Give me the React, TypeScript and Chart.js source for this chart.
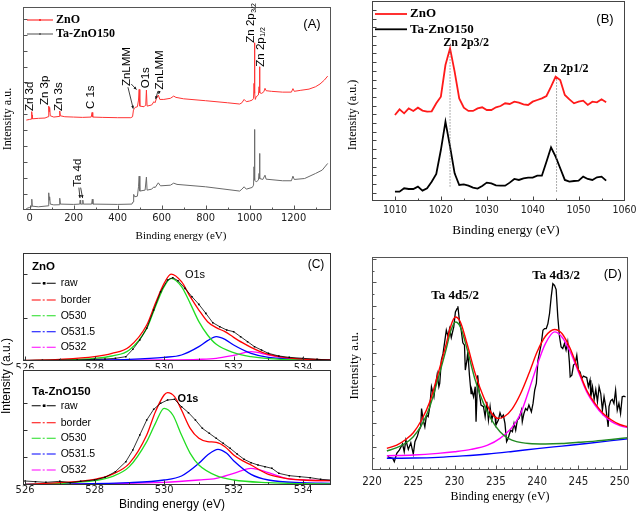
import { useEffect, useRef } from "react";
import { Chart, registerables } from "chart.js";
Chart.register(...registerables);

// ---------------- DATA ----------------
// (A) survey spectra
const aZnOEv = [-15,0,7,9,10,11,13,40,70,84,87,89,91,94,110,134,137,140,160,200,240,280,284,287,330,400,460,468,472,477,480,490,495,498,501,520,528,531,534,555,565,570,577,585,592,610,640,655,665,700,800,900,955,965,975,985,1000,1012,1018,1020,1022,1024,1026,1030,1040,1043,1045,1047,1055,1065,1070,1075,1100,1150,1190,1197,1203,1230,1270,1300,1320,1340,1355];
const aZnO = [5.63,5.67,5.69,6.05,6.16,5.95,5.71,5.74,5.76,5.84,6.51,6.16,6.43,5.90,5.82,5.86,6.20,5.90,5.84,5.82,5.80,5.82,6.11,5.82,5.80,5.78,5.78,5.84,6.26,6.37,6.43,6.47,6.89,7.56,6.51,6.47,6.58,7.52,6.51,6.58,6.79,6.72,7.00,7.21,6.93,6.93,7.00,7.14,7.06,6.97,6.85,6.72,6.64,6.72,6.93,6.79,6.83,6.89,7.00,7.94,10.5,7.31,6.93,7.10,7.21,7.73,8.99,7.35,7.31,7.42,7.63,7.48,7.44,7.39,7.39,7.61,7.44,7.50,7.58,7.73,7.90,8.15,8.40];
const aTaEv = [-15,0,8,10,12,40,84,87,89,91,94,110,134,137,140,200,228,230,232,240,242,244,282,285,288,400,465,470,473,478,490,495,498,501,525,531,534,555,565,570,585,595,640,655,670,800,955,965,975,985,1012,1018,1020,1022,1024,1030,1040,1043,1045,1047,1060,1070,1075,1150,1190,1197,1203,1250,1300,1330,1355];
const aTa = [0.06,0.13,0.17,0.65,0.21,0.17,0.23,1.05,0.59,0.80,0.34,0.29,0.30,0.71,0.34,0.32,0.34,0.59,0.34,0.34,0.59,0.34,0.34,0.65,0.34,0.32,0.34,0.48,0.95,0.80,0.84,1.43,2.10,1.16,1.22,2.04,1.22,1.28,1.43,1.37,1.68,1.49,1.53,1.66,1.58,1.43,1.16,1.28,1.43,1.28,1.39,1.53,2.69,5.04,1.85,1.74,1.85,2.27,3.53,1.95,1.89,2.16,1.91,1.81,1.81,2.10,1.89,1.95,2.27,2.48,2.90];
const aXTicks = [0, 200, 400, 600, 800, 1000, 1200];

// (B) Zn 2p
const bEv = [1010,1011,1012,1013,1014,1015,1016,1017,1018,1019,1020,1021,1022,1023,1024,1025,1026,1027,1028,1029,1030,1031,1032,1033,1034,1035,1036,1037,1038,1039,1040,1041,1042,1043,1044,1045,1046,1047,1048,1049,1050,1051,1052,1053,1054,1055,1056];
const bZnO = [8.93,9.58,9.12,9.69,9.39,9.77,9.43,9.31,9.35,10.27,11.03,14.67,16.59,13.91,10.84,9.77,9.39,9.39,9.69,9.81,9.50,9.50,9.81,9.96,10.27,10.19,10.46,10.34,10.15,10.08,10.46,10.65,10.84,11.11,12.18,13.33,12.95,11.23,10.73,10.27,10.46,10.57,10.08,10.46,10.38,10.73,10.38];
const bTa = [0.11,0.11,0.50,0.42,0.42,0.69,0.23,0.50,1.26,2.15,4.90,8.16,5.29,2.22,0.88,0.96,0.80,0.57,0.46,0.77,1.15,1.07,0.84,0.80,0.80,1.15,1.57,1.46,1.65,1.72,1.72,1.95,1.95,3.56,5.21,4.14,2.80,1.46,1.26,1.34,1.38,1.84,1.57,1.46,1.76,1.84,1.38];
const bPeakLines = [1022, 1045.2];
const bXTicks = [1010, 1020, 1030, 1040, 1050, 1060];

// (C) O 1s, ZnO (top)
const cTopRawEv = [526,526.5,527,527.5,528,528.3,528.6,528.9,529.1,529.3,529.5,529.7,529.9,530.1,530.25,530.4,530.6,530.8,531,531.2,531.4,531.6,531.8,532,532.2,532.4,532.6,532.8,533,533.3,533.6,534,534.4,534.8];
const cTopRaw = [2,2,3,3,5,6,8,13,35,63,98,153,208,243,250,241,218,193,170,143,115,103,93,88,73,58,43,33,23,15,11,8,5,3];
const cTopBorderEv = [526,527,528,528.5,529,529.5,529.75,530,530.2,530.5,530.75,531,531.25,531.5,531.75,532,532.25,532.5,532.75,533,533.5,534,534.8];
const cTopBorder = [2,5,13,23,43,108,173,233,261,238,193,153,118,100,88,71,55,41,29,20,10,6,3];
const cTopO530Ev = [526,527,528,528.5,529,529.5,529.75,530,530.2,530.5,530.75,531,531.25,531.5,532,532.5,533,534,534.8];
const cTopO530 = [1,3,8,15,33,98,163,223,248,223,173,118,78,50,25,13,7,3,2];
const cTopO5315Ev = [526,528,529,530,530.5,531,531.25,531.5,531.75,532,532.5,533,534,534.8];
const cTopO5315 = [1,3,5,11,18,43,61,73,65,48,23,11,5,3];
const cTopO532Ev = [526,530,531,531.5,532,532.5,533,533.5,534,534.8];
const cTopO532 = [1,3,5,8,17,28,18,9,5,3];
// (C) O 1s, Ta-ZnO150 (bottom)
const cBotRawEv = [526,526.3,526.6,527,527.3,527.6,528,528.3,528.6,528.9,529.1,529.3,529.5,529.7,529.9,530.1,530.3,530.5,530.7,530.9,531.1,531.3,531.5,531.7,531.9,532.1,532.3,532.5,532.7,532.9,533.1,533.3,533.6,533.9,534.2,534.5,534.8];
const cBotRaw = [12,10,8,11,7,11,15,23,40,70,105,150,195,227,245,255,257,235,217,195,170,155,140,125,110,93,77,67,60,55,50,35,28,25,22,17,15];
const cBotBorderEv = [526,527,528,528.5,529,529.5,529.75,530,530.1,530.3,530.5,530.75,531,531.25,531.5,531.75,532,532.25,532.5,532.75,533,533.5,534,534.8];
const cBotBorder = [2,7,17,32,65,150,220,270,277,265,225,170,140,130,128,115,90,73,60,45,32,20,15,13];
const cBotO530Ev = [526,527,528,528.5,529,529.5,529.75,530,530.25,530.5,530.75,531,531.5,532,533,534,534.8];
const cBotO530 = [2,5,13,25,55,130,185,230,210,150,95,60,28,15,7,4,3];
const cBotO5315Ev = [526,529,530,530.5,531,531.25,531.55,531.8,532,532.5,533,534,534.8];
const cBotO5315 = [2,7,15,27,65,90,107,95,73,32,15,7,5];
const cBotO532Ev = [526,530,531,531.5,532,532.5,533,533.5,534,534.8];
const cBotO532 = [2,8,15,20,35,50,37,20,15,13];
const cXTicks = [526, 528, 530, 532, 534];
const cLegend = ["raw", "border", "O530", "O531.5", "O532"];

// (D) Ta 4d
const dRawEv = [
  221.9,222.1,222.5,222.7,223.0,223.3,223.7,223.9,224.1,224.4,
  224.7,225.0,225.2,225.5,225.7,225.9,226.0,226.2,226.4,226.6,
  226.8,227.0,227.2,227.5,227.6,227.9,228.1,228.2,228.4,228.6,
  228.8,229.0,229.2,229.4,229.6,229.9,230.1,230.3,230.4,230.6,
  230.8,231.0,231.2,231.3,231.5,231.6,231.8,232.0,232.1,232.3,
  232.5,232.6,232.8,233.0,233.2,233.5,233.7,233.9,234.1,234.3,
  234.5,234.7,234.9,235.0,235.3,235.5,235.7,235.9,236.1,236.3,
  236.5,236.6,236.8,237.0,237.2,237.4,237.6,237.8,238.1,238.2,
  238.4,238.6,238.8,239.0,239.3,239.5,239.7,239.9,240.1,240.3,
  240.5,240.7,240.9,241.1,241.3,241.5,241.7,241.9,242.1,242.3,
  242.5,242.7,242.9,243.1,243.3,243.5,243.7,243.9,244.0,244.2,
  244.4,244.6,244.8,245.0,245.2,245.4,245.6,245.8,246.0,246.2,
  246.4,246.5,246.7,246.9,247.1,247.3,247.5,247.7,247.9,248.1,
  248.3,248.6,248.7,248.9,249.1,249.3,249.5,249.7,249.9,250.1,
  250.3,250.5,250.7];
const dRaw = [
  0.57,0.54,0.50,0.35,0.71,0.85,1.11,0.78,1.28,0.88,
  1.16,0.68,1.21,1.45,1.70,1.84,2.62,2.13,1.84,2.34,
  2.27,2.70,3.55,3.12,3.40,4.09,3.55,3.69,4.68,4.96,
  5.46,5.96,5.70,6.03,5.65,6.10,6.74,6.88,6.98,6.31,
  5.96,5.42,5.32,4.26,4.68,5.04,4.04,3.26,3.40,3.12,
  3.55,2.06,4.04,3.26,2.77,2.70,2.27,2.91,2.13,2.70,
  2.13,2.41,2.27,1.91,2.13,2.44,2.24,2.34,1.99,1.21,
  1.35,1.49,1.70,1.63,1.99,1.70,2.13,2.20,2.55,2.06,
  2.41,2.62,2.55,2.77,2.48,2.84,3.40,3.69,4.68,5.04,
  5.39,5.96,6.03,6.03,6.24,6.67,7.38,7.94,7.87,7.69,
  6.52,5.70,5.25,5.18,5.39,5.11,5.46,4.61,3.97,4.04,
  4.47,4.54,4.89,4.26,4.18,3.90,4.00,3.97,3.94,3.55,
  3.83,3.12,3.55,3.01,3.43,2.91,3.55,3.26,2.55,3.12,
  2.70,1.84,2.70,2.95,3.01,2.84,3.40,2.55,2.84,2.41,
  3.12,3.15,3.12];
const dSumEv = [221.8,223,224,225,226,227,228,229,229.5,230.1,230.7,231.5,232.5,233.5,234.5,235.3,236,237,238,239,240,241,242.1,243,244,245,246,247,248,249,250,251];
const dSum = [0.92,1.06,1.28,1.59,2.13,2.91,4.11,5.39,6.10,6.52,6.31,5.39,4.11,3.12,2.41,2.20,2.27,2.62,3.26,4.11,5.04,5.70,5.99,5.82,5.18,4.26,3.40,2.84,2.41,2.13,1.94,1.84];
const d52Ev = [221.8,223,224,225,226,227,228,229,229.5,230.1,230.7,231.5,232.5,233.5,234.5,235.5,236.5,237.5,239,241,243,245,247,249,251];
const d52 = [0.81,0.95,1.13,1.42,1.91,2.70,3.90,5.18,5.89,6.31,6.10,5.18,3.83,2.84,2.13,1.63,1.35,1.21,1.13,1.11,1.13,1.18,1.23,1.30,1.38];
const d32Ev = [221.8,225,228,230,232,234,235.5,237,238,239,240,241,242.1,243,244,245,246,247,248,249,250,251];
const d32 = [0.61,0.64,0.71,0.78,0.88,1.06,1.35,1.84,2.41,3.40,4.47,5.39,5.89,5.67,5.04,4.18,3.33,2.77,2.34,2.06,1.89,1.80];
const dBaseEv = [221.8,225,228,231,234,237,240,243,246,249,251];
const dBase = [0.50,0.51,0.54,0.60,0.68,0.79,0.91,1.02,1.13,1.25,1.33];
const dXTicks = [220, 225, 230, 235, 240, 245, 250];

// ---------------- STYLE / HELPERS ----------------
const SANS = '"Liberation Sans", Arial, Helvetica, sans-serif';
const NARROW = '"Liberation Sans Narrow", "Arial Narrow", "DejaVu Sans Condensed", "Liberation Sans", sans-serif';
const SERIF = '"Liberation Serif", "Times New Roman", Times, serif';
const RED_A = "#ff3333";
const GRAY_A = "#6a6a6a";
const C_COLORS = ["#000000", "#ff0000", "#22dd22", "#0000ff", "#ff00ff"];

const range = (a: number, b: number, s: number) => {
  const r: number[] = [];
  for (let v = a; v <= b + 1e-9; v += s) r.push(+v.toFixed(4));
  return r;
};
const pts = (xs: number[], ys: number[]) => xs.map((x, i) => ({ x, y: ys[i] }));

type Box = { left: number; top: number; width: number; height: number };
type Area = { l: number; t: number; r: number; b: number };

const framePlugin = (o: any) => ({
  id: "frame",
  beforeDraw(chart: any) {
    if (o.whiteFrom != null) {
      const c = chart.ctx;
      c.save();
      c.fillStyle = "#ffffff";
      c.fillRect(0, o.whiteFrom, chart.width, chart.height - o.whiteFrom);
      c.restore();
    }
  },
  afterDatasetsDraw(chart: any) {
    const { ctx, chartArea: a } = chart;
    const xs = chart.scales.x, ys = chart.scales.y;
    const L = Math.round(a.left) + 0.5, R = Math.round(a.right) - 0.5;
    const T = Math.round(a.top) + 0.5, B = Math.round(a.bottom) - 0.5;
    ctx.save();
    ctx.strokeStyle = o.color;
    ctx.lineWidth = 1;
    ctx.strokeRect(L, T, R - L, B - T);
    ctx.beginPath();
    const xt = (vals: number[], len: number) => vals.forEach((v) => {
      const p = Math.round(xs.getPixelForValue(v)) + 0.5;
      if (p < L - 0.1 || p > R + 0.1) return;
      ctx.moveTo(p, B); ctx.lineTo(p, B - len);
    });
    const yt = (vals: number[], len: number) => vals.forEach((v) => {
      const p = Math.round(ys.getPixelForValue(v)) + 0.5;
      if (p < T - 0.1 || p > B + 0.1) return;
      ctx.moveTo(L, p); ctx.lineTo(L + len, p);
    });
    xt(o.xMajor || [], o.major); xt(o.xMinor || [], o.minor);
    yt(o.yMajor || [], o.major); yt(o.yMinor || [], o.minor);
    ctx.stroke();
    ctx.restore();
  },
});

const notesPlugin = (o: any) => ({
  id: "notes",
  afterDraw(chart: any) {
    const ctx = chart.ctx;
    const xs = chart.scales.x, ys = chart.scales.y;
    const P = (x: number, y: number, data?: boolean) =>
      data ? [xs.getPixelForValue(x), ys.getPixelForValue(y)] : [x, y];
    (o.lines || []).forEach((l: any) => {
      const [x1, y1] = P(l.x1, l.y1, l.data);
      const [x2, y2] = P(l.x2, l.y2, l.data);
      ctx.save();
      ctx.strokeStyle = l.color || "#000";
      ctx.lineWidth = l.w || 1;
      ctx.setLineDash(l.dash || []);
      ctx.beginPath(); ctx.moveTo(x1, y1); ctx.lineTo(x2, y2); ctx.stroke();
      ctx.setLineDash([]);
      if (l.arrow) {
        const ang = Math.atan2(y2 - y1, x2 - x1), h = 3.2;
        ctx.beginPath();
        ctx.moveTo(x2, y2);
        ctx.lineTo(x2 - h * Math.cos(ang - 0.45), y2 - h * Math.sin(ang - 0.45));
        ctx.lineTo(x2 - h * Math.cos(ang + 0.45), y2 - h * Math.sin(ang + 0.45));
        ctx.closePath();
        ctx.fillStyle = l.color || "#000";
        ctx.fill();
      }
      if (l.marker) {
        ctx.fillStyle = l.color || "#000";
        const mx = (x1 + x2) / 2, my = (y1 + y2) / 2;
        ctx.fillRect(mx - l.marker, my - l.marker, 2 * l.marker, 2 * l.marker);
      }
      ctx.restore();
    });
    (o.texts || []).forEach((t: any) => {
      const [x, y] = P(t.x, t.y, t.data);
      ctx.save();
      ctx.translate(x, y);
      if (t.rot) ctx.rotate(t.rot);
      ctx.font = t.font;
      ctx.fillStyle = t.color || "#000";
      ctx.textAlign = t.align || "center";
      ctx.textBaseline = t.base || "middle";
      ctx.fillText(t.text, 0, 0);
      if (t.sub) {
        const w = ctx.measureText(t.text).width;
        ctx.font = t.subFont;
        ctx.textAlign = "left";
        ctx.fillText(t.sub, w + 0.5, t.subDy ?? 3);
      }
      ctx.restore();
    });
  },
});

function makeConfig(p: any) {
  const box: Box = p.box, area: Area = p.area;
  return {
    type: "line",
    data: { datasets: p.datasets },
    options: {
      responsive: false,
      animation: false,
      events: [],
      layout: { padding: { left: 0, top: area.t, right: box.width - area.r, bottom: 0 } },
      plugins: { legend: { display: false }, tooltip: { enabled: false } },
      elements: { point: { radius: 0 } },
      scales: {
        x: {
          type: "linear",
          min: p.xMin,
          max: p.xMax,
          afterBuildTicks: (s: any) => { s.ticks = p.xTicks.map((v: number) => ({ value: v })); },
          afterFit: (s: any) => { s.height = box.height - area.b; s.paddingLeft = 0; s.paddingRight = 0; },
          grid: { display: false, drawTicks: false },
          border: { display: false },
          ticks: {
            autoSkip: false,
            maxRotation: 0,
            padding: p.tickPad,
            color: "#222",
            font: { family: p.tickFamily, size: p.tickSize },
            callback: (v: any) => String(v),
          },
        },
        y: {
          type: "linear",
          min: p.yMin,
          max: p.yMax,
          afterFit: (s: any) => { s.width = area.l; s.paddingTop = 0; s.paddingBottom = 0; },
          grid: { display: false, drawTicks: false },
          border: { display: false },
          ticks: { display: false },
        },
      },
    },
    plugins: [framePlugin(p.frame), notesPlugin(p.notes)],
  };
}

const line = (xs: number[], ys: number[], color: string, w: number, smooth = false, extra: any = {}) => ({
  data: pts(xs, ys),
  borderColor: color,
  backgroundColor: color,
  borderWidth: w,
  pointRadius: 0,
  fill: false,
  tension: smooth ? 0.4 : 0,
  cubicInterpolationMode: smooth ? "monotone" : "default",
  ...extra,
});

// ---------------- PANELS ----------------
const BOX_A: Box = { left: 0, top: 0, width: 338, height: 248 };
const BOX_B: Box = { left: 338, top: 0, width: 300, height: 248 };
const BOX_CT: Box = { left: 0, top: 248, width: 338, height: 124 };
const BOX_CB: Box = { left: 0, top: 248, width: 338, height: 265 };
const BOX_D: Box = { left: 338, top: 248, width: 300, height: 265 };

const rotUp = -Math.PI / 2;
const aLab = (text: string, x: number, y: number) => ({ text, x, y, data: true, rot: rotUp, align: "left", font: `11.5px ${SANS}` });
const arrowA = (x1: number, y1: number, x2: number, y2: number) => ({ x1, y1, x2, y2, data: true, arrow: true, w: 0.8, color: "#111" });

const cfgA = () => makeConfig({
  box: BOX_A, area: { l: 23, t: 7, r: 331, b: 209.5 },
  xMin: -30, xMax: 1370, xTicks: aXTicks, tickFamily: NARROW, tickSize: 11, tickPad: 2,
  yMin: 0, yMax: 12.75,
  datasets: [line(aZnOEv, aZnO, RED_A, 1), line(aTaEv, aTa, GRAY_A, 1)],
  frame: { color: "#555", major: 4, minor: 2, xMajor: aXTicks, xMinor: range(100, 1300, 200), yMajor: range(0, 12, 1) },
  notes: {
    lines: [
      { x1: 27, y1: 20, x2: 53, y2: 20, color: RED_A, w: 1.2, marker: 1 },
      { x1: 27, y1: 34, x2: 53, y2: 34, color: GRAY_A, w: 1.2, marker: 1 },
      arrowA(447, 7.7, 471, 6.35), arrowA(462, 7.9, 486, 7.55),
      arrowA(583, 7.45, 573, 6.95), arrowA(590, 7.45, 587, 7.28),
      arrowA(224, 1.38, 229, 0.72), arrowA(232, 1.38, 241, 0.72),
    ],
    texts: [
      { text: "ZnO", x: 56, y: 20, align: "left", font: `bold 12px ${SERIF}` },
      { text: "Ta-ZnO150", x: 56, y: 34, align: "left", font: `bold 12px ${SERIF}` },
      { text: "(A)", x: 312, y: 24, font: `13px ${SANS}` },
      { text: "Binding energy (eV)", x: 181, y: 236, font: `11px ${SERIF}` },
      { text: "Intensity a.u.", x: 8, y: 119, rot: rotUp, font: `12px ${SERIF}` },
      aLab("Zn 3d", 0, 6.2), aLab("Zn 3p", 67, 6.58), aLab("Zn 3s", 135, 6.2), aLab("C 1s", 278, 6.32),
      aLab("ZnLMM", 441, 7.77), aLab("O1s", 529, 7.63), aLab("ZnLMM", 590, 7.56), aLab("Ta 4d", 219, 1.43),
      { ...aLab("Zn 2p", 1007, 10.5), sub: "3/2", subFont: `7px ${SANS}`, subDy: 2.5 },
      { ...aLab("Zn 2p", 1050, 8.99), sub: "1/2", subFont: `7px ${SANS}`, subDy: 2.5 },
    ],
  },
});

const cfgB = () => makeConfig({
  box: BOX_B, area: { l: 34, t: 1, r: 286.5, b: 201 },
  xMin: 1005, xMax: 1060, xTicks: bXTicks, tickFamily: NARROW, tickSize: 10.5, tickPad: 3.4,
  yMin: -0.96, yMax: 22.03,
  datasets: [line(bEv, bZnO, "#ff1a1a", 1.8), line(bEv, bTa, "#000000", 1.8)],
  frame: { color: "#444", major: 4, minor: 2, xMajor: bXTicks, xMinor: range(1005, 1055, 10), yMajor: range(0, 21, 1) },
  notes: {
    lines: [
      { x1: bPeakLines[0], y1: 0.69, x2: bPeakLines[0], y2: 16.4, data: true, color: "#777", w: 0.8, dash: [1.5, 1.5] },
      { x1: bPeakLines[1], y1: 0.11, x2: bPeakLines[1], y2: 13.1, data: true, color: "#777", w: 0.8, dash: [1.5, 1.5] },
      { x1: 37, y1: 14, x2: 69, y2: 14, color: "#ff1a1a", w: 1.8 },
      { x1: 37, y1: 29.3, x2: 69, y2: 29.3, color: "#000", w: 1.8 },
    ],
    texts: [
      { text: "ZnO", x: 72, y: 14, align: "left", font: `bold 13px ${SERIF}` },
      { text: "Ta-ZnO150", x: 72, y: 29.3, align: "left", font: `bold 13px ${SERIF}` },
      { text: "(B)", x: 267, y: 19, font: `13px ${SANS}` },
      { text: "Zn 2p3/2", x: 1025.5, y: 17.2, data: true, font: `bold 12px ${SERIF}` },
      { text: "Zn 2p1/2", x: 1047.2, y: 14.2, data: true, font: `bold 12px ${SERIF}` },
      { text: "Binding energy (eV)", x: 168, y: 230.7, font: `13px ${SERIF}` },
      { text: "Intensity (a.u.)", x: 15.3, y: 115, rot: rotUp, font: `12px ${SERIF}` },
    ],
  },
});

const cLegendNotes = (ys: number[]) => {
  const lines: any[] = [], texts: any[] = [];
  cLegend.forEach((name, i) => {
    lines.push({ x1: 31.7, y1: ys[i], x2: 56.7, y2: ys[i], color: C_COLORS[i], w: 1.1, dash: [9, 2, 2, 2], marker: i === 0 ? 1.3 : 0 });
    texts.push({ text: name, x: 60.7, y: ys[i], align: "left", font: `10.5px ${SANS}` });
  });
  return { lines, texts };
};

const cDatasets = (raw: [number[], number[]], fits: [number[], number[]][]) => [
  line(raw[0], raw[1], "#000", 0.8, false, { pointRadius: 1.1, pointStyle: "rect", pointBackgroundColor: "#000", pointBorderWidth: 0 }),
  ...fits.map((f, i) => line(f[0], f[1], C_COLORS[i + 1], 1.3, true)),
];

const cfgCT = () => {
  const lg = cLegendNotes([35.3, 52, 67.7, 83.7, 99.3]);
  return makeConfig({
    box: BOX_CT, area: { l: 23.3, t: 4.7, r: 331, b: 113 },
    xMin: 525.95, xMax: 534.8, xTicks: cXTicks, tickFamily: NARROW, tickSize: 11, tickPad: 0.5,
    yMin: 0, yMax: 325,
    datasets: cDatasets([cTopRawEv, cTopRaw], [[cTopBorderEv, cTopBorder], [cTopO530Ev, cTopO530], [cTopO5315Ev, cTopO5315], [cTopO532Ev, cTopO532]]),
    frame: { color: "#333", major: 4, minor: 2, xMajor: cXTicks, xMinor: range(527, 533, 2), yMajor: [128, 261] },
    notes: {
      lines: lg.lines,
      texts: [
        { text: "ZnO", x: 32, y: 18.7, align: "left", font: `bold 11.5px ${SANS}` },
        ...lg.texts,
        { text: "O1s", x: 195, y: 27, font: `11px ${SANS}` },
        { text: "(C)", x: 316, y: 17, font: `12px ${SANS}` },
      ],
    },
  });
};

const cfgCB = () => {
  const lg = cLegendNotes([157.7, 174.7, 190.3, 206, 222]);
  return makeConfig({
    box: BOX_CB, area: { l: 23.3, t: 122, r: 331, b: 237 },
    xMin: 525.95, xMax: 534.8, xTicks: cXTicks, tickFamily: NARROW, tickSize: 11, tickPad: -1.6,
    yMin: 0, yMax: 345,
    datasets: cDatasets([cBotRawEv, cBotRaw], [[cBotBorderEv, cBotBorder], [cBotO530Ev, cBotO530], [cBotO5315Ev, cBotO5315], [cBotO532Ev, cBotO532]]),
    frame: { color: "#333", major: 4, minor: 2, xMajor: cXTicks, xMinor: range(527, 533, 2), yMajor: [83, 165, 245], whiteFrom: 120.5 },
    notes: {
      lines: lg.lines,
      texts: [
        { text: "Ta-ZnO150", x: 32, y: 143.7, align: "left", font: `bold 11.5px ${SANS}` },
        ...lg.texts,
        { text: "O1s", x: 188, y: 151, font: `bold 11px ${SANS}` },
        { text: "Binding energy (eV)", x: 172, y: 257, font: `12px ${SANS}` },
        { text: "Intensity (a.u.)", x: 7, y: 128, rot: rotUp, font: `12px ${SANS}` },
      ],
    },
  });
};

const cfgD = () => makeConfig({
  box: BOX_D, area: { l: 34, t: 9, r: 290, b: 222 },
  xMin: 220, xMax: 251, xTicks: dXTicks, tickFamily: NARROW, tickSize: 11.5, tickPad: 4.8,
  yMin: 0, yMax: 9.08,
  datasets: [
    line(dSumEv, dSum, "#ff0000", 1.4, true),
    line(d52Ev, d52, "#228b22", 1.4, true),
    line(d32Ev, d32, "#ff00ff", 1.4, true),
    line(dBaseEv, dBase, "#0000ff", 1.4, true),
    line(dRawEv, dRaw, "#000000", 1.3),
  ],
  frame: { color: "#555", major: 4, minor: 2, xMajor: dXTicks, xMinor: range(221, 250, 1).filter((v) => v % 5 !== 0), yMajor: range(0, 9, 1), yMinor: range(0.5, 8.5, 1) },
  notes: {
    lines: [],
    texts: [
      { text: "Ta 4d5/2", x: 230.07, y: 7.45, data: true, font: `bold 13px ${SERIF}` },
      { text: "Ta 4d3/2", x: 242.3, y: 8.3, data: true, font: `bold 13px ${SERIF}` },
      { text: "(D)", x: 274.7, y: 26, font: `13px ${SANS}` },
      { text: "Binding energy (eV)", x: 162, y: 248.7, font: `12px ${SERIF}` },
      { text: "Intensity a.u.", x: 17, y: 117.7, rot: rotUp, font: `13px ${SERIF}` },
    ],
  },
});

function Panel({ box, make }: { box: Box; make: () => any }) {
  const ref = useRef<HTMLCanvasElement>(null);
  useEffect(() => {
    const chart = new Chart(ref.current as HTMLCanvasElement, make() as any);
    return () => chart.destroy();
  }, []);
  return (
    <canvas
      ref={ref}
      width={box.width}
      height={box.height}
      style={{ position: "absolute", left: box.left, top: box.top, width: box.width, height: box.height }}
    />
  );
}

export default function App() {
  return (
    <div style={{ position: "fixed", left: 0, top: 0, width: 638, height: 513, background: "#ffffff", overflow: "hidden" }}>
      <Panel box={BOX_A} make={cfgA} />
      <Panel box={BOX_B} make={cfgB} />
      <Panel box={BOX_CT} make={cfgCT} />
      <Panel box={BOX_CB} make={cfgCB} />
      <Panel box={BOX_D} make={cfgD} />
    </div>
  );
}
